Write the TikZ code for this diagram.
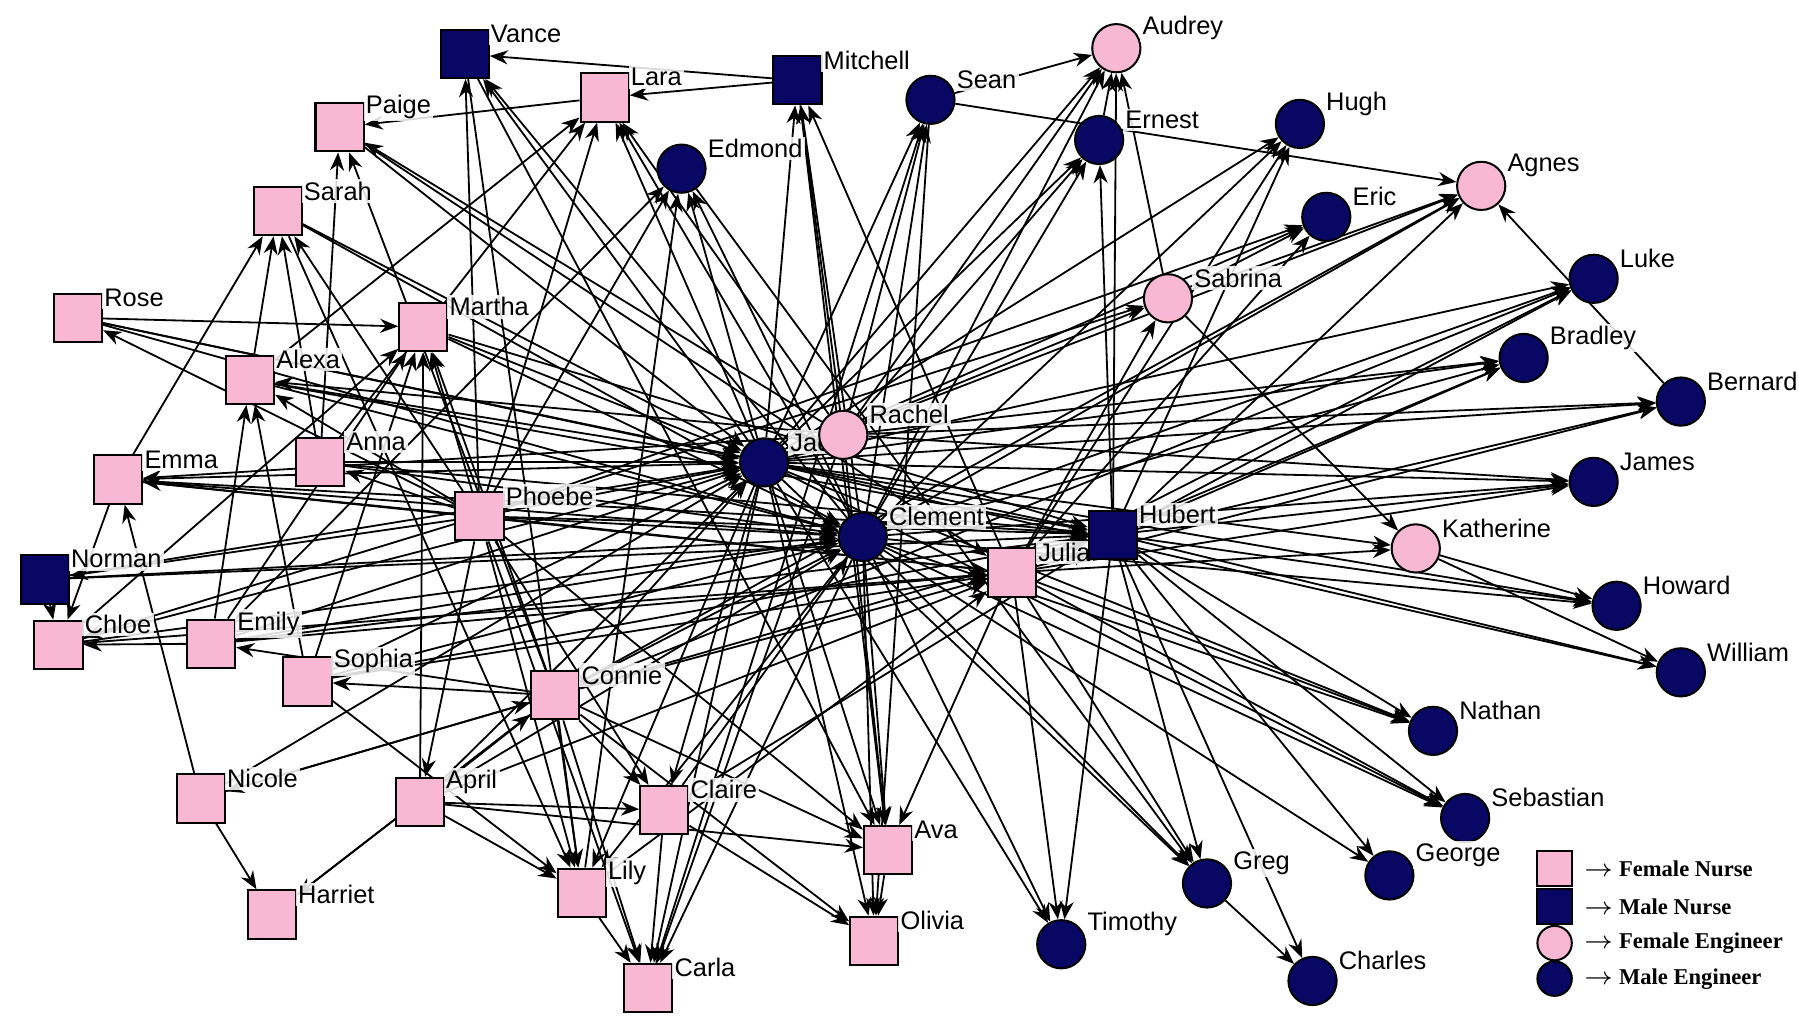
\documentclass[tikz,border=0pt]{standalone}
\usepackage{fontspec}
\setmainfont{Liberation Sans}
\newfontfamily\legfont{Liberation Serif}
\usetikzlibrary{arrows.meta}
\pgfdeclarelayer{bg}
\pgfsetlayers{bg,main}
\definecolor{fpink}{RGB}{248,184,212}
\definecolor{mnavy}{RGB}{8,8,100}
\begin{document}
\begin{tikzpicture}[x=0.01cm,y=-0.01cm,
  shp/.style={draw=black,line width=0.5pt,inner sep=0pt,minimum size=0.42cm},
  base/.style={shp,
    label={[font=\fontsize{6.3}{7}\selectfont,fill=white,fill opacity=0.85,text opacity=1,inner sep=0.6pt,anchor=west,xshift=-0.5pt,yshift=5pt]east:#1}},
  fn/.style={base=#1,rectangle,fill=fpink},
  mn/.style={base=#1,rectangle,fill=mnavy},
  fe/.style={base=#1,circle,fill=fpink},
  me/.style={base=#1,circle,fill=mnavy},
  e/.style={-{Stealth[length=4.5pt,width=3.5pt]},line width=0.45pt},
  leg/.style={font=\legfont\bfseries\fontsize{5.6}{7}\selectfont,anchor=west}]
\useasboundingbox (0,0) rectangle (1568,899);
% female nurses
\node[fn=Lara] (Lara) at (527,85) {};
\node[fn=Paige] (Paige) at (296,111) {};
\node[fn=Sarah] (Sarah) at (242,184) {};
\node[fn=Rose] (Rose) at (68,277) {};
\node[fn=Martha] (Martha) at (369,285) {};
\node[fn=Alexa] (Alexa) at (218,331) {};
\node[fn=Anna] (Anna) at (279,403) {};
\node[fn=Emma] (Emma) at (103,418) {};
\node[fn=Phoebe] (Phoebe) at (418,450) {};
\node[fn=Chloe] (Chloe) at (51,562) {};
\node[fn=Emily] (Emily) at (184,561) {};
\node[fn=Sophia] (Sophia) at (268,594) {};
\node[fn=Connie] (Connie) at (484,606) {};
\node[fn=Nicole] (Nicole) at (175,696) {};
\node[fn=April] (April) at (366,699) {};
\node[fn=Claire] (Claire) at (579,706) {};
\node[fn=Ava] (Ava) at (774,741) {};
\node[fn=Lily] (Lily) at (507,778) {};
\node[fn=Harriet] (Harriet) at (237,797) {};
\node[fn=Olivia] (Olivia) at (762,820) {};
\node[fn=Carla] (Carla) at (565,861) {};
\node[fn=Julia] (Julia) at (882,499) {};
% male nurses
\node[mn=Vance] (Vance) at (405,47) {};
\node[mn=Mitchell] (Mitchell) at (695,70) {};
\node[mn=Norman] (Norman) at (39,505) {};
\node[mn=Hubert] (Hubert) at (970,466) {};
% female engineers
\node[fe=Audrey] (Audrey) at (973,42) {};
\node[fe=Agnes] (Agnes) at (1291,162) {};
\node[fe=Sabrina] (Sabrina) at (1018,260) {};
\node[fe=Katherine] (Katherine) at (1234,478) {};
% male engineers
\node[me=Sean] (Sean) at (811,87) {};
\node[me=Edmond] (Edmond) at (594,147) {};
\node[me=Ernest] (Ernest) at (958,122) {};
\node[me=Hugh] (Hugh) at (1133,108) {};
\node[me=Eric] (Eric) at (1156,189) {};
\node[me=Luke] (Luke) at (1389,243) {};
\node[me=Bradley] (Bradley) at (1328,312) {};
\node[me=Bernard] (Bernard) at (1465,350) {};
\node[me=Jack] (Jack) at (666,403) {};
\node[fe=Rachel] (Rachel) at (735,379) {};
\node[me=James] (James) at (1389,420) {};
\node[me=Clement] (Clement) at (752,468) {};
\node[me=Howard] (Howard) at (1409,528) {};
\node[me=William] (William) at (1465,586) {};
\node[me=Nathan] (Nathan) at (1249,637) {};
\node[me=Sebastian] (Sebastian) at (1277,713) {};
\node[me=George] (George) at (1211,763) {};
\node[me=Greg] (Greg) at (1052,770) {};
\node[me=Timothy] (Timothy) at (925,823) {};
\node[me=Charles] (Charles) at (1144,855) {};
\begin{pgfonlayer}{bg}
\foreach \n in {Vance,Lara,Mitchell,Sean,Audrey,Ernest,Hugh,Eric,Agnes,Sabrina,Luke,Bradley,Bernard,James,Howard,William,Katherine,Nathan,Sebastian,Greg,Timothy,Ava,Olivia,Lily,Carla,Claire,Edmond}
  \draw[e] (Jack) -- (\n);
\foreach \n in {Connie,Sophia,Emily,Chloe,Emma,Rose,Alexa,Sarah,Paige,Martha,Anna,Phoebe,Norman,April,Nicole}
  \draw[e] (\n) -- (Jack);
\foreach \n in {Vance,Lara,Mitchell,Sean,Audrey,Ernest,Hugh,Agnes,Luke,Bradley,James,Howard,Nathan,Sebastian,George,Greg,Timothy,Ava,Olivia,Lily,Carla,Edmond}
  \draw[e] (Clement) -- (\n);
\foreach \n in {Connie,Sophia,Emily,Chloe,Emma,Rose,Alexa,Sarah,Martha,Anna,Phoebe,Norman,April,Claire}
  \draw[e] (\n) -- (Clement);
\foreach \n in {Audrey,Agnes,Luke,Bradley,Bernard,James,Howard,William,Nathan,Sebastian,George,Greg,Timothy,Charles,Ernest,Hugh}
  \draw[e] (Hubert) -- (\n);
\foreach \n in {Emma,Rose,Alexa,Norman,Emily,Sophia,Phoebe,Connie,Martha,Anna,Claire}
  \draw[e] (\n) -- (Hubert);
\foreach \n in {Luke,Bradley,Bernard,James,Katherine,Nathan,Sebastian,Greg,Timothy,Ava,Sabrina,Eric,Hugh,Mitchell}
  \draw[e] (Julia) -- (\n);
\foreach \n in {Emma,Phoebe,Emily,Sophia,Connie,Chloe,April,Lily}
  \draw[e] (\n) -- (Julia);
\foreach \n in {Emma,Norman,Chloe,Rose,Martha,Sarah,Vance,Lara,Edmond,Lily,April,Claire,Carla,Ava,Anna,Alexa,Sabrina,Eric}
  \draw[e] (Phoebe) -- (\n);
\foreach \n in {Sophia,Emily,Lily,Carla,Claire,April,Nicole,Harriet,Martha,Paige,Ava,Olivia,Agnes,Luke}
  \draw[e] (Connie) -- (\n);
\foreach \n in {Audrey,Sean,Ernest,Mitchell,Lara,Paige,Bernard,Bradley,James,Ava,Carla,Emma,Alexa}
  \draw[e] (Rachel) -- (\n);
\draw[e] (Mitchell) -- (Vance);
\draw[e] (Mitchell) -- (Lara);
\draw[e] (Lara) -- (Paige);
\draw[e] (Sean) -- (Audrey);
\draw[e] (Sean) -- (Agnes);
\draw[e] (Ernest) -- (Audrey);
\draw[e] (Sabrina) -- (Audrey);
\draw[e] (Sabrina) -- (Eric);
\draw[e] (Sabrina) -- (Agnes);
\draw[e] (Sabrina) -- (Katherine);
\draw[e] (Bernard) -- (Agnes);
\draw[e] (Katherine) -- (Howard);
\draw[e] (Katherine) -- (William);
\draw[e] (Greg) -- (Charles);
\draw[e] (Nicole) -- (Harriet);
\draw[e] (Ava) -- (Olivia);
\draw[e] (Claire) -- (Carla);
\draw[e] (Lily) -- (Carla);
\draw[e] (April) -- (Lily);
\draw[e] (April) -- (Ava);
\draw[e] (Claire) -- (Olivia);
\draw[e] (Emily) -- (Chloe);
\draw[e] (Norman) -- (Chloe);
\draw[e] (Emma) -- (Chloe);
\draw[e] (Emma) -- (Sarah);
\draw[e] (Rose) -- (Martha);
\draw[e] (Alexa) -- (Sarah);
\draw[e] (Anna) -- (Sarah);
\draw[e] (Anna) -- (Paige);
\draw[e] (Anna) -- (Lara);
\draw[e] (Alexa) -- (Lara);
\draw[e] (Emily) -- (Alexa);
\draw[e] (Emily) -- (Martha);
\draw[e] (Sophia) -- (Alexa);
\draw[e] (Sophia) -- (Martha);
\draw[e] (Chloe) -- (Martha);
\draw[e] (Nicole) -- (Emma);
\draw[e] (Harriet) -- (Connie);
\draw[e] (Nicole) -- (Connie);
\draw[e] (April) -- (Martha);
\draw[e] (April) -- (Claire);
\draw[e] (Sophia) -- (Lily);
\draw[e] (Sarah) -- (Lily);
\draw[e] (Emily) -- (Edmond);
\draw[e] (Vance) -- (Lily);
\draw[e] (Vance) -- (Ava);
\draw[e] (Paige) -- (Julia);
\draw[e] (Sean) -- (Olivia);
\draw[e] (Mitchell) -- (Ava);
\draw[e] (Edmond) -- (Greg);
\draw[e] (Lily) -- (Edmond);
\draw[e] (Carla) -- (Sean);
\end{pgfonlayer}
% legend
\node[shp,rectangle,fill=fpink,minimum size=0.3cm] (l1) at (1355,757) {};
\node[leg] (t1) at (1368,757) {$\rightarrow$ Female Nurse};
\node[shp,rectangle,fill=mnavy,minimum size=0.3cm] (l2) at (1355,790) {};
\node[leg] (t2) at (1368,790) {$\rightarrow$ Male Nurse};
\node[shp,circle,fill=fpink,minimum size=0.3cm] (l3) at (1355,822) {};
\node[leg] (t3) at (1368,822) {$\rightarrow$ Female Engineer};
\node[shp,circle,fill=mnavy,minimum size=0.3cm] (l4) at (1355,853) {};
\node[leg] (t4) at (1368,853) {$\rightarrow$ Male Engineer};
\end{tikzpicture}
\end{document}
